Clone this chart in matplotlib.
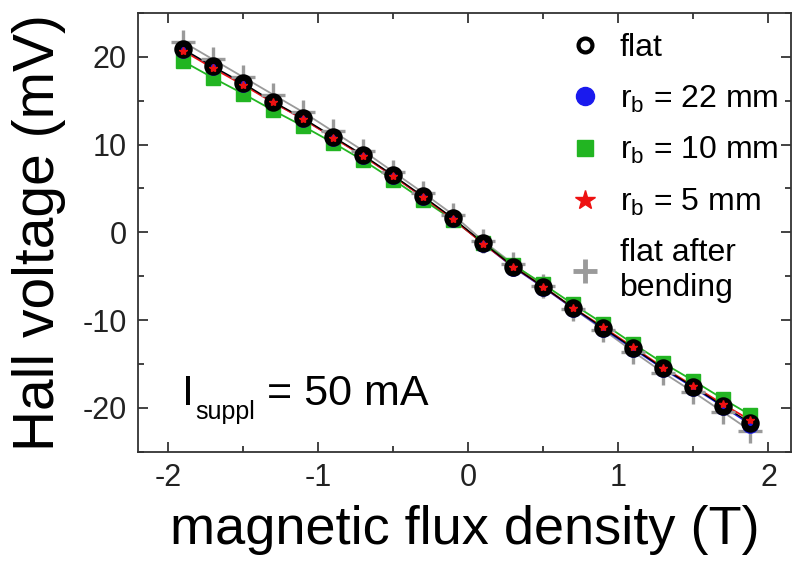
import matplotlib
matplotlib.use("Agg")
import matplotlib.pyplot as plt
import matplotlib.lines as mlines
from matplotlib.ticker import MultipleLocator

plt.rcParams['font.family'] = ['Liberation Sans', 'DejaVu Sans']
plt.rcParams['mathtext.fontset'] = 'custom'
plt.rcParams['mathtext.rm'] = 'Liberation Sans'
plt.rcParams['mathtext.it'] = 'Liberation Sans'
plt.rcParams['axes.unicode_minus'] = False

# magnetic flux density (T)
B = [-1.9, -1.7, -1.5, -1.3, -1.1, -0.9, -0.7, -0.5, -0.3, -0.1,
     0.1, 0.3, 0.5, 0.7, 0.9, 1.1, 1.3, 1.5, 1.7, 1.88]
# Hall voltage (mV)
v_flat = [20.9, 18.9, 17.0, 14.9, 13.0, 10.9, 8.8, 6.5, 4.1, 1.6,
          -1.2, -3.9, -6.2, -8.6, -10.9, -13.2, -15.5, -17.6, -19.8, -21.7]
v_22mm = [20.8, 18.8, 16.9, 14.8, 12.9, 10.8, 8.7, 6.4, 4.0, 1.5,
          -1.3, -4.0, -6.3, -8.7, -11.0, -13.3, -15.6, -17.7, -19.9, -21.9]
v_10mm = [19.5, 17.6, 15.8, 13.9, 12.1, 10.2, 8.2, 6.0, 3.7, 1.4,
          -1.2, -3.7, -5.9, -8.2, -10.4, -12.7, -14.9, -16.9, -19.0, -20.8]
v_5mm = [20.7, 18.7, 16.8, 14.8, 12.9, 10.8, 8.7, 6.4, 4.0, 1.5,
         -1.3, -3.9, -6.2, -8.6, -10.8, -13.1, -15.4, -17.5, -19.6, -21.4]
v_after = [21.7, 19.7, 17.7, 15.7, 13.7, 11.5, 9.3, 6.9, 4.5, 2.0,
           -1.0, -3.6, -6.1, -8.7, -11.1, -13.6, -16.0, -18.2, -20.5, -22.6]

labels = ['flat', r'$\mathregular{r_b}$ = 22 mm', r'$\mathregular{r_b}$ = 10 mm',
          r'$\mathregular{r_b}$ = 5 mm', 'flat after\nbending']
xticks = [-2, -1, 0, 1, 2]
yticks = [-20, -10, 0, 10, 20]

fig = plt.figure(figsize=(7.93, 5.62), dpi=100)
ax = fig.add_axes([0.174, 0.196, 0.8235, 0.781])

GRAY = '#9a9a9a'
GREEN = '#22b522'
BLUE = '#1a1aee'
RED = '#ee1111'

# connecting lines
ax.plot(B, v_after, '-', color=GRAY, lw=1.3, zorder=1)
ax.plot(B, v_10mm, '-', color=GREEN, lw=1.3, zorder=1)
ax.plot(B, v_22mm, '-', color=BLUE, lw=1.0, zorder=1)
ax.plot(B, v_5mm, '-', color=RED, lw=1.3, zorder=1)
ax.plot(B, v_flat, '-', color='black', lw=1.0, zorder=1)

# markers
ax.plot(B, v_after, '+', color=GRAY, ms=17, mew=2.4, ls='none', zorder=2)
ax.plot(B, v_10mm, 's', color=GREEN, ms=10.5, ls='none', zorder=3)
ax.plot(B, v_22mm, 'o', color=BLUE, ms=11, ls='none', zorder=4)
ax.plot(B, v_flat, 'o', mfc='none', mec='black', ms=8.5, mew=4.8, ls='none', zorder=5)
ax.plot(B, v_5mm, '*', color=RED, ms=6, ls='none', zorder=6)

# legend handles
lh = [
    mlines.Line2D([], [], marker='o', mfc='white', mec='black', ms=10, mew=3, ls='none'),
    mlines.Line2D([], [], marker='o', color=BLUE, ms=13, ls='none'),
    mlines.Line2D([], [], marker='s', color=GREEN, ms=11, ls='none'),
    mlines.Line2D([], [], marker='*', color=RED, ms=15, ls='none'),
    mlines.Line2D([], [], marker='+', color=GRAY, ms=17, mew=3.5, ls='none'),
]
leg = ax.legend(lh, labels, loc='upper left', bbox_to_anchor=(0.635, 0.983),
                frameon=False, fontsize=23, handlelength=1.2, handletextpad=0.5,
                labelspacing=0.64, borderaxespad=0)

# I_suppl annotation (pieces to get the low subscript)
ax.text(0.068, 0.107, 'I', transform=ax.transAxes, fontsize=31, va='baseline', ha='left')
ax.text(0.088, 0.075, 'suppl', transform=ax.transAxes, fontsize=18, va='baseline', ha='left')
ax.text(0.198, 0.107, '= 50 mA', transform=ax.transAxes, fontsize=31, va='baseline', ha='left')

ax.set_xlim(-2.2, 2.15)
ax.set_ylim(-25, 25)
ax.set_xticks(xticks)
ax.set_yticks(yticks)
ax.xaxis.set_minor_locator(MultipleLocator(0.5))
ax.yaxis.set_minor_locator(MultipleLocator(5))
ax.tick_params(which='both', direction='in', top=True, right=True,
               labelsize=22, colors='#222222', width=1.2)
ax.tick_params(which='major', length=7, pad=8)
ax.tick_params(which='minor', length=4)
for s in ax.spines.values():
    s.set_linewidth(1.3)
    s.set_color('#333333')

ax.set_xlabel('magnetic flux density (T)', fontsize=39, labelpad=9)
ax.set_ylabel('Hall voltage (mV)', fontsize=41, labelpad=12)

fig.savefig('out.png', dpi=100)
